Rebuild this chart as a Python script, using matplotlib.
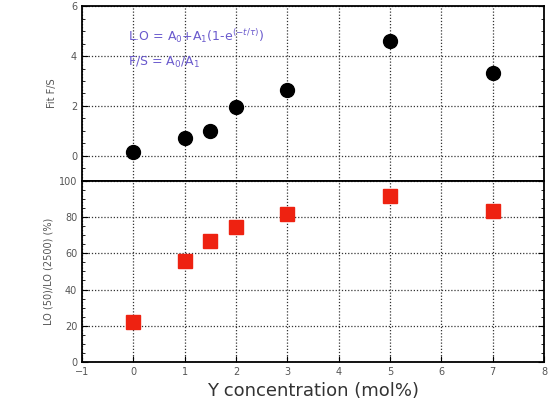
import matplotlib.pyplot as plt
from matplotlib.ticker import MultipleLocator

# Y concentration (mol%)
y_conc = [0, 1, 1.5, 2, 3, 5, 7]
# fitted fast/slow ratio
fit_fs = [0.16, 0.7, 0.98, 1.96, 2.63, 4.6, 3.33]
# LO(50)/LO(2500) in percent
lo_ratio = [22, 56, 67, 74.5, 81.6, 91.8, 83.5]

fig = plt.figure(figsize=(5.58, 4.03), dpi=100)
ax_top = fig.add_axes([0.147, 0.551, 0.828, 0.434])
ax_bot = fig.add_axes([0.147, 0.102, 0.828, 0.449], sharex=ax_top)

tick_color = "#555555"
for ax in (ax_top, ax_bot):
    ax.grid(True, which="major", color="#333333", linestyle=(0, (1, 1.5)), linewidth=0.9)
    ax.tick_params(which="both", direction="in", right=True, top=False,
                   labelsize=7, labelcolor=tick_color)
    ax.tick_params(which="major", length=4)
    ax.tick_params(which="minor", length=2)
    for sp in ax.spines.values():
        sp.set_linewidth(1.3)

ax_top.plot(y_conc, fit_fs, "o", color="black", markersize=10)
ax_top.set_ylim(-1, 6)
ax_top.yaxis.set_major_locator(MultipleLocator(2))
ax_top.yaxis.set_minor_locator(MultipleLocator(0.5))
ax_top.tick_params(axis="x", labelbottom=False, length=0)
ax_top.set_ylabel("Fit F/S", fontsize=7, color=tick_color, labelpad=10)
ax_top.text(0.10, 0.83, r"L.O = A$_0$+A$_1$(1-e$^{(-t/\tau)}$)", va="center",
            transform=ax_top.transAxes, color="#6a5acd", fontsize=9)
ax_top.text(0.10, 0.68, r"F/S = A$_0$/A$_1$", va="center",
            transform=ax_top.transAxes, color="#6a5acd", fontsize=9)

ax_bot.plot(y_conc, lo_ratio, "s", color="#ee2211", markersize=10)
ax_bot.set_ylim(0, 100)
ax_bot.set_xlim(-1, 8)
ax_bot.yaxis.set_major_locator(MultipleLocator(20))
ax_bot.yaxis.set_minor_locator(MultipleLocator(5))
ax_bot.xaxis.set_major_locator(MultipleLocator(1))
ax_bot.set_ylabel("LO (50)/LO (2500) (%)", fontsize=7, color=tick_color, labelpad=4)
ax_bot.set_xlabel("Y concentration (mol%)", fontsize=13, color="#333333", labelpad=4)

fig.savefig("out.png", dpi=100)
